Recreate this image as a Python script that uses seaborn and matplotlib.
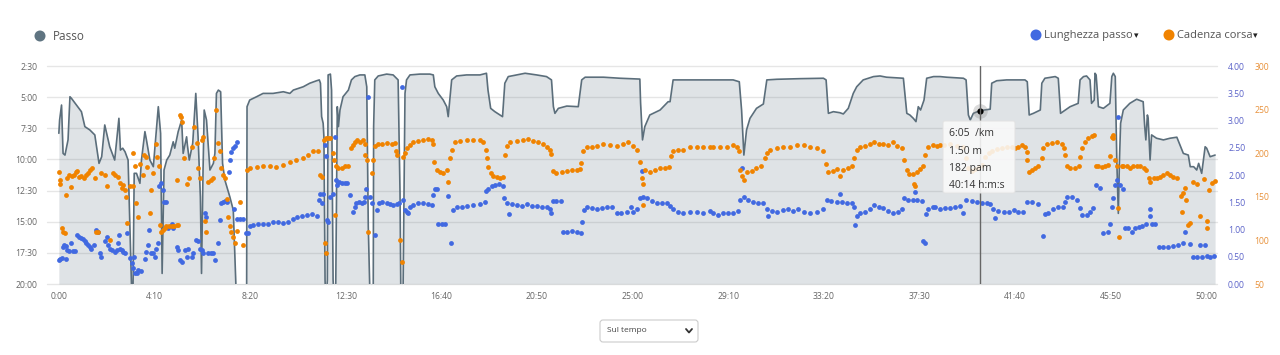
import matplotlib
matplotlib.use('Agg')
import matplotlib.pyplot as plt
import seaborn as sns
from matplotlib.patches import FancyBboxPatch, Circle

sns.set_style('white')
plt.rcParams['font.family'] = ['Open Sans', 'DejaVu Sans']

# Pace (s per km) over elapsed time (s)
pace_points = [
    (0, 474), (2, 410), (7, 338), (11, 571), (16, 579), (24, 506), (29, 298), (33, 306), (46, 338),
    (59, 370), (68, 442), (81, 458), (94, 482), (105, 619), (112, 587), (120, 434), (133, 539),
    (146, 603), (157, 402), (161, 555), (167, 546), (173, 563), (181, 603), (190, 1213), (194, 1205),
    (197, 667), (203, 667), (212, 715), (216, 603), (225, 466), (229, 506), (238, 603), (247, 635),
    (255, 458), (260, 346), (266, 474), (270, 1149), (275, 651), (282, 603), (290, 579), (299, 515),
    (303, 546), (312, 466), (316, 442), (321, 410), (325, 571), (334, 491), (336, 530), (341, 603),
    (350, 522), (358, 282), (364, 491), (370, 780), (373, 1149), (377, 651), (380, 362), (386, 410),
    (395, 651), (404, 619), (408, 571), (412, 282), (417, 266), (423, 274), (428, 619), (434, 699),
    (447, 780), (456, 844), (463, 1213), (470, 1400), (485, 1400), (491, 1213), (492, 346), (499, 314),
    (517, 298), (534, 282), (560, 282), (587, 274), (604, 282), (613, 266), (639, 250), (656, 233),
    (674, 221), (681, 217), (684, 233), (687, 394), (691, 426), (693, 491), (696, 1181), (698, 1300),
    (702, 1181), (704, 193), (710, 189), (713, 266), (717, 1181), (720, 1300), (724, 1195), (728, 346),
    (731, 442), (735, 362), (743, 298), (757, 266), (765, 217), (774, 201), (787, 193), (800, 193),
    (805, 250), (809, 924), (813, 1229), (817, 1300), (822, 1229), (823, 442), (826, 217), (835, 198),
    (857, 189), (874, 193), (887, 217), (892, 763), (894, 1229), (897, 1300), (900, 1229), (905, 282),
    (909, 217), (918, 193), (944, 189), (970, 189), (979, 193), (983, 250), (992, 282), (1005, 314),
    (1014, 346), (1018, 394), (1022, 314), (1027, 217), (1040, 198), (1066, 193), (1101, 193),
    (1110, 189), (1118, 185), (1122, 266), (1129, 354), (1140, 370), (1153, 386), (1160, 394),
    (1166, 233), (1175, 201), (1197, 193), (1219, 185), (1249, 193), (1275, 201), (1288, 217),
    (1293, 346), (1297, 378), (1306, 354), (1328, 343), (1358, 346), (1367, 217), (1376, 204),
    (1424, 204), (1467, 209), (1519, 213), (1521, 330), (1526, 506), (1532, 442), (1545, 386),
    (1572, 362), (1593, 322), (1598, 322), (1606, 217), (1633, 217), (1702, 217), (1763, 217),
    (1779, 226), (1785, 362), (1791, 579), (1798, 458), (1807, 402), (1824, 354), (1842, 333),
    (1851, 217), (1877, 214), (1938, 211), (1999, 209), (2006, 217), (2012, 378), (2025, 370),
    (2042, 375), (2051, 381), (2064, 354), (2077, 282), (2086, 250), (2103, 217), (2130, 201),
    (2147, 198), (2164, 204), (2208, 209), (2217, 378), (2225, 386), (2234, 402), (2241, 418),
    (2247, 346), (2253, 362), (2259, 330), (2262, 314), (2269, 209), (2287, 201), (2304, 201),
    (2321, 204), (2365, 209), (2372, 217), (2378, 386), (2383, 410), (2391, 378), (2408, 365),
    (2435, 358), (2439, 233), (2452, 221), (2478, 217), (2526, 217), (2532, 226), (2537, 386),
    (2548, 378), (2566, 362), (2570, 233), (2578, 209), (2605, 201), (2613, 209), (2619, 378),
    (2644, 346), (2665, 330), (2670, 217), (2679, 201), (2687, 198), (2696, 217), (2700, 330),
    (2707, 314), (2709, 185), (2712, 193), (2718, 346), (2731, 354), (2748, 330), (2753, 201),
    (2757, 185), (2762, 201), (2766, 603), (2770, 860), (2773, 603), (2776, 426), (2783, 362),
    (2800, 330), (2818, 310), (2835, 322), (2839, 442), (2842, 506), (2846, 386), (2848, 402),
    (2853, 603), (2857, 482), (2870, 498), (2888, 506), (2905, 498), (2923, 493), (2940, 571),
    (2953, 579), (2958, 635), (2967, 635), (2975, 651), (2980, 619), (2988, 667), (2997, 539),
    (3001, 546), (3010, 587), (3023, 579),
]

# Stride length (m)
stride_points = [
    (0, 0.44), (3, 0.45), (7, 0.47), (10, 0.68), (13, 0.71), (18, 0.70), (19, 0.45), (22, 0.62),
    (27, 0.61), (31, 0.75), (36, 0.61), (42, 0.61), (48, 0.90), (53, 0.86), (59, 0.84), (64, 0.82),
    (68, 0.78), (72, 0.75), (77, 0.71), (81, 0.68), (85, 0.65), (91, 0.71), (98, 0.99), (103, 0.96),
    (107, 0.56), (111, 0.50), (120, 0.78), (125, 0.87), (129, 0.71), (133, 0.65), (138, 0.62),
    (146, 0.59), (151, 0.62), (155, 0.75), (157, 0.90), (159, 0.65), (164, 0.62), (168, 0.59),
    (173, 0.57), (179, 0.93), (186, 0.47), (190, 0.38), (194, 0.29), (196, 0.50), (200, 0.20),
    (205, 0.20), (207, 0.26), (216, 0.23), (225, 0.45), (229, 0.59), (233, 0.71), (236, 0.99),
    (240, 0.56), (247, 0.56), (251, 0.50), (255, 0.65), (260, 0.75), (262, 1.79), (267, 1.85),
    (273, 1.72), (274, 1.51), (280, 1.51), (286, 1.02), (295, 1.11), (299, 1.02), (308, 0.68),
    (312, 0.62), (316, 0.44), (323, 0.41), (330, 0.62), (334, 0.50), (338, 0.65), (347, 0.50),
    (351, 0.56), (358, 0.81), (364, 0.78), (369, 0.65), (373, 0.62), (377, 0.56), (382, 1.31),
    (384, 1.23), (390, 0.57), (397, 0.56), (404, 0.56), (408, 0.44), (417, 0.75), (421, 1.17),
    (423, 1.48), (428, 1.51), (434, 1.53), (440, 1.51), (445, 2.06), (447, 2.27), (451, 2.43),
    (456, 2.49), (460, 2.53), (465, 2.61), (459, 1.37), (466, 1.19), (473, 1.19), (482, 1.19),
    (490, 0.93), (495, 0.93), (500, 1.06), (508, 1.08), (521, 1.10), (534, 1.11), (547, 1.11),
    (561, 1.14), (574, 1.14), (587, 1.12), (600, 1.14), (613, 1.19), (622, 1.23), (635, 1.25),
    (648, 1.27), (661, 1.28), (674, 1.25), (680, 1.54), (683, 1.66), (687, 1.48), (691, 1.66),
    (696, 2.55), (698, 2.34), (702, 1.17), (704, 1.14), (709, 1.60), (716, 1.66), (722, 2.69),
    (724, 1.91), (728, 1.82), (733, 1.88), (739, 1.86), (748, 1.86), (754, 1.85), (761, 1.63),
    (770, 1.33), (774, 1.42), (778, 1.48), (785, 1.51), (792, 1.48), (798, 1.51), (800, 1.60),
    (803, 1.75), (807, 3.44), (813, 1.60), (820, 1.49), (826, 0.90), (831, 1.36), (838, 1.48),
    (846, 1.51), (857, 1.48), (866, 1.47), (874, 1.45), (883, 1.47), (890, 1.48), (896, 3.61),
    (900, 1.55), (905, 1.36), (909, 1.33), (914, 1.30), (918, 1.42), (927, 1.45), (940, 1.48),
    (953, 1.49), (966, 1.47), (975, 1.45), (979, 1.63), (983, 1.75), (988, 1.75), (992, 1.11),
    (1001, 1.10), (1009, 1.10), (1018, 1.61), (1024, 0.75), (1031, 1.36), (1040, 1.42), (1053, 1.42),
    (1066, 1.43), (1084, 1.45), (1101, 1.47), (1114, 1.51), (1117, 1.71), (1123, 1.75), (1132, 1.80),
    (1140, 1.82), (1152, 1.83), (1160, 1.80), (1165, 1.57), (1171, 1.49), (1178, 1.28), (1184, 1.47),
    (1197, 1.45), (1210, 1.43), (1223, 1.47), (1236, 1.43), (1249, 1.43), (1262, 1.42), (1275, 1.41),
    (1284, 1.37), (1288, 1.30), (1293, 1.53), (1301, 1.53), (1312, 1.53), (1319, 0.96), (1328, 0.96),
    (1341, 0.98), (1354, 0.96), (1364, 0.93), (1369, 1.14), (1373, 1.36), (1380, 1.41), (1393, 1.39),
    (1406, 1.37), (1419, 1.39), (1432, 1.41), (1445, 1.42), (1458, 1.31), (1471, 1.30), (1485, 1.33),
    (1495, 1.41), (1502, 1.33), (1512, 1.37), (1519, 1.57), (1524, 2.08), (1528, 1.60), (1537, 1.57),
    (1550, 1.53), (1563, 1.49), (1576, 1.49), (1589, 1.49), (1598, 1.43), (1607, 1.37), (1620, 1.33),
    (1633, 1.31), (1650, 1.33), (1668, 1.33), (1685, 1.31), (1702, 1.34), (1711, 1.31), (1724, 1.27),
    (1737, 1.31), (1750, 1.30), (1763, 1.31), (1776, 1.34), (1781, 1.55), (1785, 2.12), (1791, 1.59),
    (1803, 1.54), (1816, 1.51), (1829, 1.49), (1842, 1.48), (1851, 1.37), (1855, 1.25), (1864, 1.34),
    (1877, 1.33), (1894, 1.36), (1907, 1.37), (1920, 1.34), (1933, 1.37), (1947, 1.33), (1964, 1.30),
    (1981, 1.33), (1999, 1.37), (2008, 1.54), (2020, 1.53), (2034, 1.51), (2042, 1.66), (2047, 1.51),
    (2060, 1.49), (2073, 1.48), (2079, 1.41), (2082, 1.08), (2086, 1.25), (2095, 1.30), (2108, 1.33),
    (2121, 1.37), (2130, 1.45), (2143, 1.42), (2156, 1.39), (2169, 1.34), (2182, 1.31), (2195, 1.33),
    (2204, 1.37), (2210, 1.57), (2221, 1.55), (2234, 1.54), (2238, 1.69), (2243, 1.54), (2256, 1.53),
    (2259, 0.78), (2265, 0.76), (2267, 1.28), (2273, 1.37), (2286, 1.42), (2291, 1.41), (2304, 1.37),
    (2317, 1.39), (2330, 1.39), (2343, 1.42), (2356, 1.43), (2365, 1.31), (2372, 1.55), (2387, 1.53),
    (2400, 1.51), (2413, 1.49), (2426, 1.48), (2435, 1.47), (2443, 1.37), (2448, 1.22), (2456, 1.34),
    (2470, 1.33), (2483, 1.33), (2496, 1.36), (2509, 1.33), (2522, 1.33), (2531, 1.51), (2544, 1.51),
    (2561, 1.47), (2572, 0.88), (2578, 1.28), (2587, 1.31), (2600, 1.37), (2613, 1.41), (2626, 1.42),
    (2631, 1.51), (2635, 1.59), (2648, 1.59), (2661, 1.55), (2670, 1.39), (2674, 1.27), (2687, 1.27),
    (2696, 1.33), (2703, 1.39), (2712, 1.82), (2722, 1.77), (2731, 0.94), (2744, 0.96), (2748, 1.10),
    (2753, 1.42), (2757, 1.57), (2762, 1.82), (2766, 1.91), (2770, 3.06), (2775, 1.82), (2782, 1.75),
    (2788, 1.02), (2796, 1.02), (2805, 0.96), (2814, 1.02), (2823, 1.05), (2831, 1.06), (2843, 1.10),
    (2853, 1.37), (2854, 1.25), (2857, 1.11), (2866, 1.10), (2877, 0.67), (2888, 0.67), (2901, 0.68),
    (2914, 0.70), (2927, 0.71), (2940, 0.75), (2944, 0.96), (2958, 0.73), (2966, 0.49), (2975, 0.50),
    (2984, 0.71), (2997, 0.71), (2988, 0.50), (3001, 0.51), (3010, 0.50), (3020, 0.51),
]

# Running cadence (steps per minute)
cadence_points = [
    (0, 179), (2, 169), (4, 165), (7, 114), (11, 110), (16, 109), (18, 152), (22, 172), (27, 175),
    (31, 161), (35, 174), (39, 175), (44, 178), (48, 180), (53, 173), (59, 174), (65, 172), (71, 175),
    (75, 177), (81, 181), (86, 183), (94, 171), (98, 110), (103, 110), (109, 177), (120, 175),
    (125, 162), (133, 101), (142, 177), (146, 175), (155, 173), (159, 166), (164, 160), (168, 164),
    (173, 158), (175, 150), (179, 120), (186, 162), (193, 162), (194, 200), (199, 185), (203, 143),
    (207, 127), (211, 188), (219, 175), (223, 198), (227, 196), (231, 184), (238, 131), (241, 158),
    (247, 177), (254, 211), (257, 196), (261, 185), (264, 118), (268, 110), (273, 112), (277, 114),
    (281, 116), (288, 116), (295, 116), (302, 116), (308, 169), (310, 118), (312, 118), (316, 244),
    (319, 241), (323, 236), (327, 194), (334, 165), (341, 171), (347, 207), (353, 230), (360, 212),
    (364, 183), (369, 171), (373, 215), (377, 219), (382, 122), (384, 110), (390, 167), (397, 169),
    (402, 171), (405, 194), (412, 250), (417, 212), (421, 202), (424, 183), (428, 175), (434, 171),
    (440, 148), (443, 127), (447, 116), (451, 110), (456, 104), (460, 97), (465, 111), (473, 144),
    (482, 95), (491, 181), (500, 183), (517, 184), (534, 185), (552, 185), (569, 184), (587, 187),
    (604, 190), (621, 192), (639, 195), (652, 198), (665, 202), (678, 202), (683, 175), (687, 173),
    (693, 215), (696, 97), (698, 217), (699, 86), (704, 218), (710, 217), (716, 200), (719, 192),
    (722, 129), (724, 185), (730, 183), (739, 183), (748, 185), (757, 185), (765, 206), (770, 209),
    (774, 213), (780, 215), (787, 213), (794, 215), (800, 211), (801, 198), (805, 192), (809, 110),
    (818, 177), (822, 192), (826, 208), (835, 211), (844, 211), (857, 212), (870, 211), (879, 212),
    (881, 202), (885, 198), (892, 101), (896, 75), (900, 196), (905, 200), (909, 206), (918, 209),
    (927, 213), (940, 214), (953, 215), (966, 216), (975, 215), (979, 211), (981, 190), (988, 181),
    (996, 179), (1005, 177), (1014, 181), (1018, 167), (1022, 194), (1027, 204), (1036, 213),
    (1049, 214), (1066, 215), (1084, 215), (1101, 215), (1110, 213), (1117, 204), (1120, 194),
    (1123, 184), (1129, 177), (1136, 174), (1145, 173), (1153, 172), (1162, 173), (1166, 198),
    (1171, 208), (1179, 213), (1197, 214), (1214, 215), (1227, 216), (1240, 214), (1253, 213),
    (1267, 211), (1277, 207), (1284, 204), (1288, 199), (1293, 180), (1301, 177), (1315, 178),
    (1328, 180), (1341, 181), (1354, 181), (1362, 182), (1365, 189), (1371, 203), (1380, 207),
    (1393, 207), (1406, 208), (1423, 211), (1441, 209), (1458, 208), (1476, 211), (1489, 213),
    (1502, 208), (1511, 204), (1519, 190), (1524, 172), (1526, 165), (1527, 141), (1532, 181),
    (1546, 178), (1559, 181), (1572, 183), (1585, 183), (1596, 184), (1600, 197), (1607, 202),
    (1620, 204), (1633, 204), (1650, 207), (1668, 207), (1685, 207), (1702, 207), (1711, 207),
    (1729, 207), (1746, 207), (1763, 209), (1774, 207), (1779, 202), (1781, 181), (1785, 174),
    (1791, 169), (1798, 179), (1811, 180), (1824, 183), (1837, 185), (1846, 195), (1851, 200),
    (1859, 204), (1877, 206), (1894, 207), (1912, 207), (1929, 209), (1947, 209), (1964, 207),
    (1981, 206), (1999, 203), (2006, 188), (2012, 179), (2025, 180), (2034, 182), (2042, 174),
    (2051, 181), (2064, 183), (2073, 185), (2079, 194), (2086, 204), (2095, 207), (2108, 208),
    (2121, 211), (2130, 213), (2143, 211), (2156, 211), (2169, 209), (2182, 213), (2191, 208),
    (2204, 206), (2210, 192), (2217, 181), (2224, 176), (2234, 176), (2236, 165), (2239, 162),
    (2243, 179), (2252, 182), (2259, 185), (2265, 198), (2273, 207), (2286, 209), (2295, 208),
    (2304, 209), (2313, 209), (2330, 210), (2348, 208), (2365, 207), (2372, 195), (2378, 183),
    (2387, 180), (2396, 182), (2405, 184), (2414, 187), (2422, 196), (2431, 200), (2440, 203),
    (2452, 205), (2465, 206), (2478, 207), (2491, 207), (2500, 206), (2509, 207), (2517, 209),
    (2526, 207), (2531, 201), (2532, 192), (2537, 179), (2544, 181), (2552, 183), (2561, 185),
    (2570, 194), (2574, 206), (2583, 211), (2596, 212), (2609, 213), (2622, 211), (2628, 206),
    (2631, 198), (2635, 185), (2644, 183), (2657, 183), (2666, 185), (2670, 196), (2674, 206),
    (2683, 213), (2692, 217), (2701, 220), (2707, 221), (2712, 185), (2718, 185), (2727, 184),
    (2735, 185), (2744, 186), (2748, 197), (2753, 219), (2755, 221), (2757, 217), (2762, 192),
    (2766, 185), (2770, 137), (2773, 104), (2779, 185), (2783, 185), (2792, 185), (2801, 183),
    (2809, 185), (2818, 185), (2827, 185), (2836, 183), (2843, 181), (2849, 171), (2853, 167),
    (2862, 171), (2871, 172), (2879, 173), (2888, 175), (2897, 177), (2905, 175), (2914, 173),
    (2923, 171), (2933, 151), (2936, 132), (2938, 154), (2945, 160), (2947, 146), (2953, 118),
    (2958, 120), (2966, 167), (2975, 165), (2984, 128), (2993, 170), (3001, 122), (3003, 114),
    (3006, 158), (3014, 166), (3023, 168),
]

time_ticks = [0, 250, 500, 750, 1000, 1250, 1500, 1750, 2000, 2250, 2500, 2750, 3000]
time_labels = ['0:00', '4:10', '8:20', '12:30', '16:40', '20:50', '25:00', '29:10',
               '33:20', '37:30', '41:40', '45:50', '50:00']
pace_ticks = [150, 300, 450, 600, 750, 900, 1050, 1200]
pace_labels = ['2:30', '5:00', '7:30', '10:00', '12:30', '15:00', '17:30', '20:00']
stride_ticks = [0, 0.5, 1, 1.5, 2, 2.5, 3, 3.5, 4]
stride_labels = ['0.00', '0.50', '1.00', '1.50', '2.00', '2.50', '3.00', '3.50', '4.00']
cadence_ticks = [50, 100, 150, 200, 250, 300]
cadence_labels = ['50', '100', '150', '200', '250', '300']

# hovered point
hover_time = 2408
hover_lines = ['6:05  /km', '1.50 m', '182 pam', '40:14 h:m:s']

pace_time, pace_value = zip(*pace_points)
stride_time, stride_value = zip(*stride_points)
cadence_time, cadence_value = zip(*cadence_points)

line_color = '#5b6e7b'
blue = '#4169e1'
orange = '#f08300'
tick_size = 6.2

fig = plt.figure(figsize=(12.8, 3.55), dpi=100)
ax = fig.add_axes([47 / 1280, 1 - 284 / 355, 1170 / 1280, 218 / 355])
ax_b = ax.twinx()
ax_c = ax.twinx()

# pace area + line
ax.fill_between(pace_time, pace_value, 1200, color='#5f7382', alpha=0.2, lw=0, zorder=1)
sns.lineplot(x=list(pace_time), y=list(pace_value), ax=ax, color=line_color, lw=1.2,
             sort=False, estimator=None, zorder=2)
ax.set_xlim(-31, 3028)
ax.set_ylim(1200, 150)
ax.set_xticks(time_ticks)
ax.set_xticklabels(time_labels)
ax.set_yticks(pace_ticks)
ax.set_yticklabels(pace_labels)
ax.grid(axis='y', color='#e6e6e6', lw=1)
ax.grid(axis='x', visible=False)
ax.set_axisbelow(True)
for gl in ax.get_ygridlines():
    gl.set_clip_on(False)
ax.tick_params(axis='y', length=0, pad=7, labelsize=tick_size, labelcolor='#666666')
ax.tick_params(axis='x', length=0, pad=6, labelsize=tick_size, labelcolor='#666666')
ax.set_xlabel('')
ax.set_ylabel('')

# stride length
sns.scatterplot(x=list(stride_time), y=list(stride_value), ax=ax_b, color=blue, s=12, linewidth=0)
ax_b.set_ylim(0, 4)
ax_b.set_yticks(stride_ticks)
ax_b.set_yticklabels(stride_labels)
ax_b.tick_params(axis='y', length=0, pad=8, labelsize=tick_size, labelcolor='#5b63c9')
ax_b.set_ylabel('')

# cadence
sns.scatterplot(x=list(cadence_time), y=list(cadence_value), ax=ax_c, color=orange, s=12, linewidth=0)
ax_c.set_ylim(50, 300)
ax_c.set_yticks(cadence_ticks)
ax_c.set_yticklabels(cadence_labels)
ax_c.tick_params(axis='y', length=0, pad=27, labelsize=tick_size, labelcolor='#e8913a')
ax_c.set_ylabel('')

for a in (ax, ax_b, ax_c):
    for s in a.spines.values():
        s.set_visible(False)

# crosshair + hovered marker
ax_c.axvline(hover_time, color='#666666', lw=1, zorder=5)
hover_pace = dict(pace_points)[hover_time]
ax.scatter([hover_time], [hover_pace], s=110, color='#888888', alpha=0.3, lw=0, zorder=6)
ax.scatter([hover_time], [hover_pace], s=20, color='black', lw=0, zorder=7)

# overlay for legend, tooltip, dropdown (pixel coordinates)
ov = fig.add_axes([0, 0, 1, 1], zorder=10)
ov.set_xlim(0, 1280)
ov.set_ylim(355, 0)
ov.axis('off')
ov.patch.set_alpha(0)

ov.add_patch(Circle((40, 36), 5.5, color='#5f7481', lw=0))
ov.text(53, 36.5, 'Passo', va='center', ha='left', fontsize=8.5, color='#555555')
ov.add_patch(Circle((1036, 35), 5.5, color=blue, lw=0))
ov.text(1044, 35.5, 'Lunghezza passo', va='center', ha='left', fontsize=8, color='#555555')
ov.text(1134, 36, '\u25BE', va='center', ha='left', fontsize=6.5, color='#222222',
        family='DejaVu Sans')
ov.add_patch(Circle((1169, 35), 5.5, color=orange, lw=0))
ov.text(1177, 35.5, 'Cadenza corsa', va='center', ha='left', fontsize=8, color='#555555')
ov.text(1253, 36, '\u25BE', va='center', ha='left', fontsize=6.5, color='#222222',
        family='DejaVu Sans')

# tooltip
ov.add_patch(FancyBboxPatch((943, 121), 72, 72, boxstyle='round,pad=0,rounding_size=2',
                            fc='#fafafa', ec='#e2e2e2', lw=0.8, alpha=0.88))
for i, line in enumerate(hover_lines):
    ov.text(949, 134 + i * 17, line, va='center', ha='left', fontsize=7.5, color='#333333')

# dropdown
ov.add_patch(FancyBboxPatch((600, 320), 98, 22, boxstyle='round,pad=0,rounding_size=3',
                            fc='white', ec='#cccccc', lw=0.8))
ov.text(607, 331, 'Sul tempo', va='center', ha='left', fontsize=6, color='#444444')
ov.plot([686, 689, 692], [329, 332.5, 329], color='#333333', lw=1.3)

fig.savefig('out.png', dpi=100, facecolor='white')
